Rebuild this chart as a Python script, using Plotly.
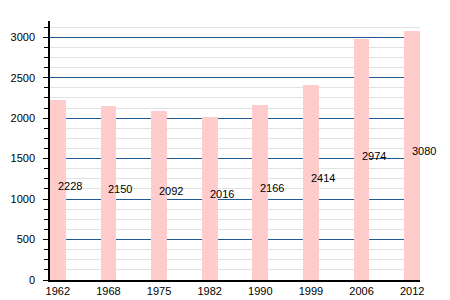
import plotly.graph_objects as go

years = ["1962", "1968", "1975", "1982", "1990", "1999", "2006", "2012"]
population = [2228, 2150, 2092, 2016, 2166, 2414, 2974, 3080]

font_family = "Liberation Sans, Arial, sans-serif"

fig = go.Figure()
fig.add_trace(go.Bar(
    x=years, y=population, width=0.31,
    marker=dict(color="#ffcccc", line=dict(width=0)),
    hoverinfo="skip",
))

for i, v in enumerate(population):
    fig.add_annotation(
        x=i, y=v / 2, xref="x", yref="y", text=str(v), showarrow=False,
        xanchor="left", yanchor="middle", xshift=-2, yshift=4,
        font=dict(family=font_family, size=11, color="#000000"),
    )

fig.update_layout(
    width=450, height=300,
    margin=dict(l=50, r=30, t=21, b=20),
    paper_bgcolor="white", plot_bgcolor="white",
    showlegend=False,
    font=dict(family=font_family, size=11, color="#000000"),
    bargap=0,
)
fig.update_xaxes(
    type="category", range=[-0.155, 7.155], automargin=False,
    showline=True, linecolor="black", linewidth=1.5,
    ticks="", showgrid=False, tickfont=dict(size=11),
)
fig.update_yaxes(
    range=[0, 3200], dtick=500, tick0=0, automargin=False,
    showline=True, linecolor="black", linewidth=1.5,
    ticks="outside", ticklen=5, tickcolor="black", ticklabelstandoff=6,
    showgrid=True, gridcolor="#1f5a94", gridwidth=1.2,
    zeroline=False,
    minor=dict(dtick=125, tick0=0, showgrid=True, gridcolor="#e2e2e2",
               gridwidth=1, ticks="outside", ticklen=4, tickcolor="black"),
    tickfont=dict(size=11),
)

fig.write_html("out.html")
